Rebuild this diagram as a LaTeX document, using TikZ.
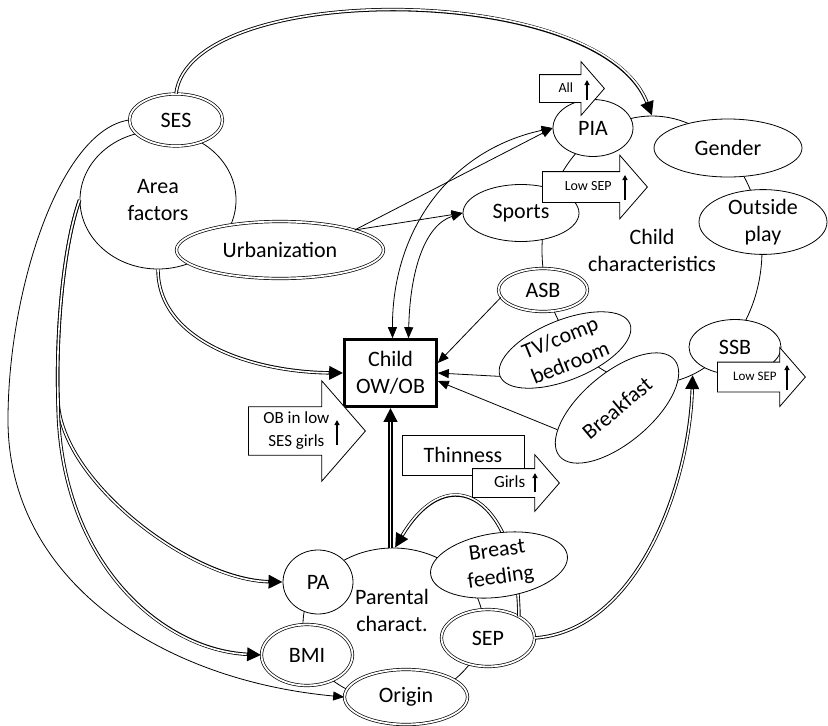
\documentclass[tikz,border=0pt]{standalone}
\usepackage{fontspec}
\setmainfont{Carlito}
\usetikzlibrary{positioning}
\usetikzlibrary{shapes.geometric}
\usetikzlibrary{shapes.arrows}
\usetikzlibrary{arrows.meta}

\tikzset{
  every node/.style={font=\fontsize{22}{27}\selectfont},
  oval/.style={ellipse, draw, fill=white, line width=0.8pt, inner sep=0pt, align=center},
  ovaldbl/.style={oval, double, double distance=1.8pt, line width=0.7pt},
  link/.style={line width=0.8pt, -{Triangle[length=11pt,width=9pt]}},
  linkboth/.style={line width=0.8pt, {Triangle[length=11pt,width=9pt]}-{Triangle[length=11pt,width=9pt]}},
  dlink/.style={line width=3.4pt, -{Triangle[length=14pt,width=13pt]},
    postaction={draw=white, arrows=-, line width=1.6pt, shorten >=14.5pt}},
  dlinkthick/.style={line width=4.4pt, -{Triangle[length=14pt,width=13pt]},
    postaction={draw=white, arrows=-, line width=1.6pt, shorten >=14.5pt}},
  callout/.style={single arrow, draw, fill=white, line width=0.8pt,
    single arrow tip angle=98, minimum width=0pt, inner xsep=2pt, anchor=tail},
  uparr/.style={line width=1.2pt, -{Triangle[length=5pt,width=5pt]}},
}

\begin{document}
\begin{tikzpicture}[x=1pt,y=-1pt]
\useasboundingbox (0,0) rectangle (828,726);
% large regions
\node[oval, minimum width=156pt, minimum height=138pt] (areaf) at (158,200) {Area\\factors};
\node[oval, minimum width=220pt, minimum height=268pt] (childchar) at (652,250) {Child\\characteristics};
\node[oval, minimum width=180pt, minimum height=152pt] (parent) at (393,624) {};
\node[align=center] (parenttxt) at (392,610) {Parental\\charact.};

% area factors
\node[ovaldbl, minimum width=93pt, minimum height=52pt] (ses) at (176,120) {SES};
\node[ovaldbl, minimum width=207pt, minimum height=57pt] (urban) at (280,250) {Urbanization};

% child characteristics
\node[oval, minimum width=80pt, minimum height=57pt] (pia) at (593,128) {PIA};
\node[oval, minimum width=148pt, minimum height=58pt] (gender) at (728,148) {Gender};
\node[oval, minimum width=128pt, minimum height=62pt] (outplay) at (763,222) {Outside\\play};
\node[oval, minimum width=116pt, minimum height=57pt] (sports) at (521,213) {Sports};
\node[ovaldbl, minimum width=89pt, minimum height=43pt] (asb) at (543,290) {ASB};
\node[oval, minimum width=140pt, minimum height=60pt, rotate=22] (tvcomp) at (565,350) {TV/comp\\bedroom};
\node[oval, minimum width=150pt, minimum height=70pt, rotate=40] (breakfast) at (617,408) {Breakfast};
\node[oval, minimum width=92pt, minimum height=55pt] (ssb) at (735,347) {SSB};

% parental characteristics
\node[oval, minimum width=70pt, minimum height=64pt] (pa) at (318,582) {PA};
\node[ovaldbl, minimum width=91pt, minimum height=61pt] (bmi) at (307,655) {BMI};
\node[ovaldbl, minimum width=123pt, minimum height=55pt] (origin) at (406,697) {Origin};
\node[ovaldbl, minimum width=93pt, minimum height=57pt] (sep) at (488,638) {SEP};
\draw[dlink] (sep.35) .. controls (518,500) and (450,455) .. ([xshift=2pt]parent.north);
\node[oval, minimum width=138pt, minimum height=64pt, rotate=8] (breast) at (499,565) {Breast\\feeding};

% outcome
\node[draw, fill=white, line width=2.6pt, minimum width=92pt, minimum height=67pt, align=center] (child) at (390.5,373) {Child\\OW/OB};
\node[draw, fill=white, line width=0.8pt, minimum width=122pt, minimum height=40pt] (thin) at (463,455) {Thinness};

% connectors
\draw[dlink] (ses.north) .. controls (190,-20) and (600,-20) .. (childchar.north);
\draw[link] (ses.west) .. controls (60,130) and (8,290) .. (8,420) .. controls (8,580) and (160,680) .. (origin.west);
\draw[dlink] (areaf.west) .. controls (62,250) and (56,340) .. (58,400) .. controls (60,480) and (190,580) .. (pa.west);
\draw[dlink] (areaf.west) .. controls (62,250) and (56,340) .. (58,400) .. controls (58,560) and (160,650) .. (bmi.west);
\draw[dlink] (areaf.south) .. controls (158,340) and (250,372) .. (child.west);
\draw[link] (urban.15) -- (pia.west);
\draw[link] (urban.15) -- (sports.west);
\draw[linkboth] ([xshift=2pt]child.north) .. controls (392,230) and (450,150) .. (pia.west);
\draw[linkboth] ([xshift=18pt]child.north) .. controls (410,270) and (425,225) .. (sports.west);
\draw[link] (asb.190) -- ([yshift=10pt]child.east);
\draw[link] (tvcomp.west) -- (child.east);
\draw[link] (breakfast.160) -- ([yshift=-8pt]child.east);
\draw[dlinkthick] (child.south |- parent.north) -- (child.south);
\draw[dlink] (sep.east) .. controls (640,630) and (690,480) .. (childchar.-72);

% block arrows
\node[callout, font=\fontsize{14}{17}\selectfont, text height=10pt, text depth=3pt, inner ysep=7pt,
  single arrow head extend=13pt, minimum height=65pt] (allcall) at (539,88.5) {All};
\node[callout, font=\fontsize{14}{17}\selectfont, text height=10pt, text depth=3pt, inner ysep=8.5pt,
  single arrow head extend=16.5pt, minimum height=105pt] (sportcall) at (542,187) {Low SEP};
\node[callout, font=\fontsize{13}{16}\selectfont, text height=9.5pt, text depth=3pt, inner ysep=8.25pt,
  single arrow head extend=14.5pt, minimum height=88pt] (ssbcall) at (717,377) {Low SEP};
\node[callout, font=\fontsize{17}{23}\selectfont, align=center, inner ysep=5pt,
  single arrow head extend=26pt, minimum height=117pt] (obcall) at (248,431) {OB in low\\SES girls};
\node[callout, font=\fontsize{17}{21}\selectfont, text height=12pt, text depth=4pt, inner ysep=6pt,
  single arrow head extend=14pt, minimum height=87pt] (girlscall) at (472,483) {Girls};

\draw[uparr] ([xshift=48pt,yshift=-11.5pt]allcall.tail) -- ++(0,-20);
\draw[uparr] ([xshift=83pt,yshift=-13pt]sportcall.tail) -- ++(0,-25);
\draw[uparr] ([xshift=70pt,yshift=-13pt]ssbcall.tail) -- ++(0,-25);
\draw[uparr] ([xshift=89pt,yshift=-14pt]obcall.tail) -- ++(0,-25);
\draw[uparr] ([xshift=63pt,yshift=-9pt]girlscall.tail) -- ++(0,-19);
\end{tikzpicture}
\end{document}
